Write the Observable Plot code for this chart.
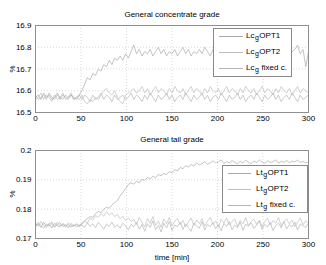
<!DOCTYPE html>
<html>
<head>
<meta charset="utf-8">
<script src="https://cdn.jsdelivr.net/npm/d3@7"></script>
<script src="https://cdn.jsdelivr.net/npm/@observablehq/plot@0.6"></script>
<style>
  html, body { margin: 0; padding: 0; background: #fff; }
  body { width: 326px; height: 265px; position: relative; overflow: hidden; font-family: "Liberation Sans", Arial, sans-serif; }
  .abs { position: absolute; }
  .title { font-size: 8px; color: #000; white-space: nowrap; transform: translateX(-50%); }
  .ylab { font-size: 8px; transform: translate(-50%,-50%) rotate(-90deg); }
  .legend { position: absolute; background: #fff; border: 1px solid #8a8a8a; box-sizing: border-box; }
  .row { position: absolute; font-size: 8px; white-space: nowrap; line-height: 8px; }
  .row sub { font-size: 7px; position: relative; top: 2px; vertical-align: baseline; margin: 0 0.5px 0 0.5px; }
</style>
</head>
<body>
<div id="top" class="abs" style="left:0;top:0"></div>
<div id="bot" class="abs" style="left:0;top:125px"></div>
<script>
// ---- data ----
const minutes = [0,3,6,9,12,15,18,21,24,27,30,33,36,39,42,45,48,51,54,57,60,63,66,69,72,75,78,81,84,87,90,93,96,99,102,105,108,111,114,117,120,123,126,129,132,135,138,141,144,147,150,153,156,159,162,165,168,171,174,177,180,183,186,189,192,195,198,201,204,207,210,213,216,219,222,225,228,231,234,237,240,243,246,249,252,255,258,261,264,267,270,273,276,279,282,285,288,291,294,297,300];

const lcOPT1 = [16.57,16.58,16.56,16.59,16.57,16.58,16.56,16.57,16.59,16.56,16.58,16.57,16.56,16.58,16.57,16.56,16.58,
16.60,16.63,16.66,16.65,16.68,16.67,16.70,16.69,16.72,16.71,16.74,16.72,16.75,16.74,16.76,16.74,16.77,16.75,16.78,
16.81,16.77,16.79,16.76,16.78,16.77,16.79,16.76,16.78,16.80,
16.77,16.79,16.76,16.78,16.77,16.79,16.76,16.78,16.80,16.77,
16.79,16.76,16.78,16.77,16.79,16.77,16.80,16.78,16.76,16.79,
16.77,16.78,16.80,16.77,16.79,16.78,16.76,16.79,16.77,16.80,
16.78,16.76,16.79,16.77,16.78,16.80,16.77,16.79,16.76,16.78,
16.80,16.77,16.79,16.78,16.76,16.79,16.77,16.80,16.78,16.79,
16.81,16.77,16.79,16.71,16.78];

const lcOPT2 = [16.56,16.57,16.59,16.56,16.58,16.57,16.55,16.58,16.56,16.57,16.59,16.56,16.57,16.58,16.56,16.57,16.56,
16.58,16.55,16.54,16.56,16.55,16.57,16.56,16.58,16.60,16.61,16.59,16.58,16.60,16.57,16.55,16.54,16.58,16.59,16.60,
16.61,16.59,16.60,16.62,16.59,16.61,16.58,16.60,16.62,16.59,
16.61,16.60,16.58,16.61,16.59,16.62,16.60,16.59,16.61,16.58,
16.60,16.62,16.59,16.61,16.60,16.58,16.61,16.59,16.62,16.60,
16.59,16.61,16.58,16.60,16.62,16.59,16.61,16.60,16.58,16.61,
16.59,16.62,16.60,16.59,16.61,16.58,16.60,16.62,16.59,16.61,
16.60,16.58,16.61,16.59,16.62,16.60,16.59,16.61,16.58,16.60,
16.62,16.59,16.61,16.60,16.59];

const lcFixed = [16.58,16.56,16.57,16.58,16.56,16.59,16.57,16.56,16.58,16.57,16.56,16.58,16.57,16.59,16.56,16.57,16.58,
16.56,16.58,16.57,16.55,16.58,16.56,16.57,16.59,16.56,16.58,16.57,16.55,16.58,16.56,16.57,16.58,16.56,16.57,16.59,
16.56,16.58,16.57,16.55,16.58,16.56,16.59,16.57,16.55,16.58,
16.56,16.57,16.59,16.56,16.58,16.55,16.57,16.58,16.56,16.59,
16.57,16.55,16.58,16.56,16.57,16.59,16.56,16.58,16.55,16.57,
16.58,16.56,16.59,16.57,16.55,16.58,16.56,16.57,16.59,16.56,
16.58,16.55,16.57,16.58,16.56,16.59,16.57,16.55,16.58,16.56,
16.57,16.59,16.56,16.58,16.55,16.57,16.58,16.56,16.59,16.57,
16.55,16.58,16.56,16.57,16.58];

const ltOPT1 = [0.1745,0.1750,0.1738,0.1755,0.1742,0.1748,0.1736,0.1752,0.1744,0.1740,0.1751,0.1743,0.1747,0.1739,0.1746,0.1741,0.1744,
0.1752,0.1760,0.1768,0.1775,0.1772,0.1785,0.1792,0.1788,0.1800,0.1807,0.1803,0.1815,0.1822,0.1830,0.1845,0.1858,0.1870,0.1884,0.1890,
0.1885,0.1895,0.1890,0.1902,0.1898,0.1908,0.1903,0.1912,0.1908,0.1918,
0.1914,0.1922,0.1918,0.1928,0.1924,0.1935,0.1930,0.1942,0.1938,0.1948,
0.1944,0.1952,0.1947,0.1958,0.1950,0.1955,0.1962,0.1953,0.1958,0.1965,
0.1957,0.1961,0.1968,0.1955,0.1962,0.1958,0.1966,0.1960,0.1954,0.1963,
0.1958,0.1967,0.1960,0.1955,0.1964,0.1959,0.1968,0.1961,0.1956,0.1965,
0.1959,0.1962,0.1968,0.1957,0.1963,0.1960,0.1966,0.1958,0.1964,0.1961,
0.1967,0.1959,0.1963,0.1957,0.1962];

const ltOPT2 = [0.1752,0.1741,0.1758,0.1745,0.1737,0.1753,0.1748,0.1740,0.1756,0.1743,0.1749,0.1738,0.1754,0.1746,0.1741,0.1750,0.1745,
0.1748,0.1760,0.1752,0.1770,0.1763,0.1778,0.1772,0.1785,0.1776,0.1792,0.1780,0.1787,0.1775,0.1782,0.1768,0.1776,0.1762,0.1770,0.1758,
0.1765,0.1748,0.1772,0.1755,0.1740,0.1768,0.1752,0.1775,0.1745,0.1760,
0.1738,0.1766,0.1750,0.1772,0.1743,0.1758,0.1769,0.1747,0.1762,0.1740,
0.1756,0.1770,0.1745,0.1763,0.1751,0.1768,0.1742,0.1759,0.1772,0.1748,
0.1760,0.1739,0.1765,0.1752,0.1770,0.1746,0.1758,0.1767,0.1741,0.1762,
0.1750,0.1771,0.1744,0.1757,0.1766,0.1748,0.1763,0.1740,0.1759,0.1769,
0.1746,0.1761,0.1753,0.1772,0.1743,0.1758,0.1767,0.1749,0.1762,0.1740,
0.1756,0.1770,0.1747,0.1760,0.1752];

const ltFixed = [0.1740,0.1755,0.1744,0.1735,0.1750,0.1742,0.1757,0.1738,0.1748,0.1753,0.1740,0.1747,0.1736,0.1751,0.1743,0.1749,0.1740,
0.1746,0.1738,0.1753,0.1742,0.1750,0.1737,0.1755,0.1744,0.1732,0.1749,0.1741,0.1756,0.1738,0.1747,0.1735,0.1752,0.1743,0.1730,0.1748,
0.1740,0.1755,0.1732,0.1748,0.1725,0.1750,0.1738,0.1760,0.1730,0.1745,
0.1722,0.1752,0.1736,0.1758,0.1728,0.1746,0.1740,0.1755,0.1731,0.1750,
0.1737,0.1725,0.1753,0.1742,0.1735,0.1757,0.1729,0.1748,0.1740,0.1754,
0.1733,0.1747,0.1726,0.1751,0.1741,0.1758,0.1730,0.1745,0.1737,0.1756,
0.1728,0.1749,0.1742,0.1753,0.1734,0.1746,0.1760,0.1731,0.1748,0.1739,
0.1755,0.1727,0.1744,0.1752,0.1736,0.1758,0.1733,0.1747,0.1740,0.1756,
0.1729,0.1750,0.1743,0.1738,0.1752];

const xTicks = [0,50,100,150,200,250,300];
const yTicksTop = [16.5,16.6,16.7,16.8,16.9];
const yTicksBot = [0.17,0.18,0.19,0.2];
const seriesColors = ["#aaaaaa","#bebebe","#b4b4b4"];

// ---- build ----
function panel(series, yDomain, yTicks, height, marginTop, marginBottom) {
  const rows = [];
  series.forEach((s, k) => s.forEach((v, i) => rows.push({t: minutes[i], v, k})));
  return Plot.plot({
    width: 326, height,
    marginLeft: 35, marginRight: 18, marginTop, marginBottom,
    style: {fontFamily: "'Liberation Sans', Arial, sans-serif", fontSize: "8px", background: "#fff", color: "#000", overflow: "visible"},
    x: {domain: [0, 300], ticks: xTicks, tickSize: 0, tickPadding: 3, label: null, tickFormat: d => String(d)},
    y: {domain: yDomain, ticks: yTicks, tickSize: 0, tickPadding: 4, label: null, tickFormat: d => String(d)},
    marks: [
      Plot.ruleX(xTicks, {stroke: "#cfcfcf", strokeDasharray: "1,2", strokeWidth: 0.8}),
      Plot.ruleY(yTicks, {stroke: "#cfcfcf", strokeDasharray: "1,2", strokeWidth: 0.8}),
      ...[2,1,0].map(k => Plot.line(rows.filter(r => r.k === k), {x: "t", y: "v", stroke: seriesColors[k], strokeWidth: 0.7})),
      Plot.frame({stroke: "#8f8f8f", strokeWidth: 1})
    ]
  });
}

document.getElementById("top").append(panel([lcOPT1, lcOPT2, lcFixed], [16.5, 16.9], yTicksTop, 125, 25, 13));
document.getElementById("bot").append(panel([ltOPT1, ltOPT2, ltFixed], [0.17, 0.2], yTicksBot, 140, 25, 27));

// ---- text & legends ----
function addDiv(html, cls, style) {
  const d = document.createElement("div");
  d.className = "abs " + cls;
  d.innerHTML = html;
  Object.assign(d.style, style);
  document.body.append(d);
  return d;
}
addDiv("General concentrate grade", "title", {left: "172px", top: "10px"});
addDiv("General tail grade", "title", {left: "172px", top: "135px"});
addDiv("%", "ylab", {left: "12px", top: "69px"});
addDiv("%", "ylab", {left: "12px", top: "194px"});
addDiv("time [min]", "title", {left: "172px", top: "253px"});

function legend(box, names, prefix, lineX0, lineX1, textX, rowYs) {
  const lg = document.createElement("div");
  lg.className = "legend";
  Object.assign(lg.style, {left: box[0] + "px", top: box[1] + "px", width: (box[2]-box[0]) + "px", height: (box[3]-box[1]) + "px"});
  names.forEach((n, i) => {
    const sw = document.createElement("div");
    sw.className = "abs";
    Object.assign(sw.style, {left: (lineX0 - box[0] - 1) + "px", top: (rowYs[i] - box[1] - 1) + "px", width: (lineX1 - lineX0) + "px", borderTop: "1px solid " + seriesColors[i], height: "0"});
    lg.append(sw);
    const r = document.createElement("div");
    r.className = "row";
    r.innerHTML = prefix + "<sub>g</sub>" + n;
    Object.assign(r.style, {left: (textX - box[0] - 1) + "px", top: (rowYs[i] - box[1] - 5) + "px"});
    lg.append(r);
  });
  document.body.append(lg);
}
const legendNames = ["OPT1", "OPT2", "&nbsp;fixed c."];
legend([213, 28, 292, 77], legendNames, "Lc", 219, 243, 246, [36, 52, 68]);
legend([222, 165, 308, 213], legendNames, "Lt", 228, 251, 256, [173, 189, 205]);
</script>
</body>
</html>
